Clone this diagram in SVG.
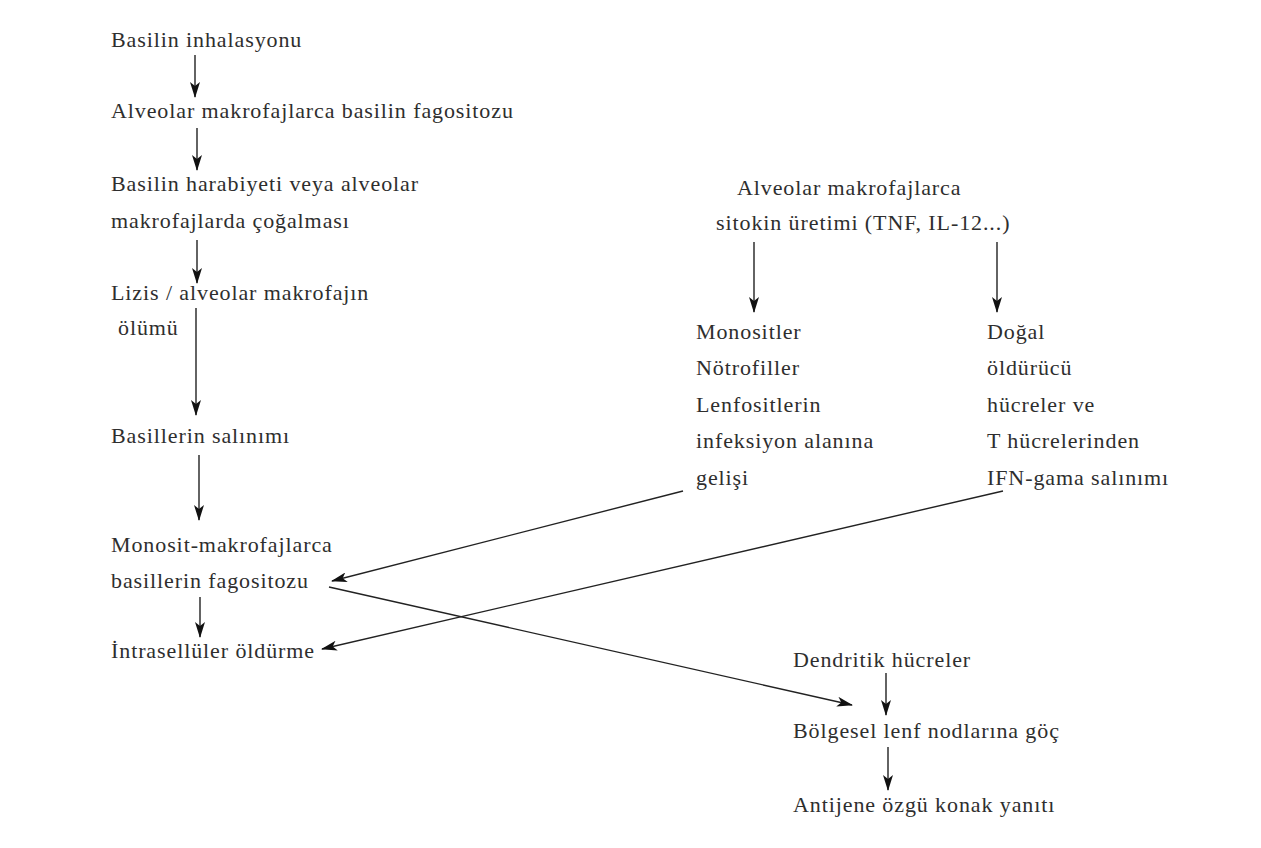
<svg xmlns="http://www.w3.org/2000/svg" width="1261" height="848" viewBox="0 0 1261 848">
<style>
text{font-family:"Liberation Serif","Times New Roman",serif;font-size:22px;letter-spacing:0.9px;fill:#2e2e2e}
.c line{stroke:#222;stroke-width:1.4;fill:none;marker-end:url(#ah)}
</style>
<defs>
<marker id="ah" viewBox="0 0 16 10" refX="15" refY="5" markerWidth="16" markerHeight="10" orient="auto" markerUnits="userSpaceOnUse">
<path d="M0,0 L16,5 L0,10 L4,5 Z" fill="#111"/>
</marker>
</defs>
<rect width="1261" height="848" fill="#fff"/>
<g id="n1"><text x="111" y="47">Basilin inhalasyonu</text></g>
<g id="n2"><text x="111" y="118">Alveolar makrofajlarca basilin fagositozu</text></g>
<g id="n3"><text x="111" y="191">Basilin harabiyeti veya alveolar</text><text x="111" y="228">makrofajlarda çoğalması</text></g>
<g id="n4"><text x="111" y="300">Lizis / alveolar makrofajın</text><text x="118" y="335">ölümü</text></g>
<g id="n5"><text x="111" y="443">Basillerin salınımı</text></g>
<g id="n6"><text x="111" y="552">Monosit-makrofajlarca</text><text x="111" y="588">basillerin fagositozu</text></g>
<g id="n7"><text x="111" y="658">İntrasellüler öldürme</text></g>
<g id="n8"><text x="737" y="195">Alveolar makrofajlarca</text><text x="716" y="230">sitokin üretimi (TNF, IL-12...)</text></g>
<g id="n9"><text x="696" y="339">Monositler</text><text x="696" y="375">Nötrofiller</text><text x="696" y="412">Lenfositlerin</text><text x="696" y="448">infeksiyon alanına</text><text x="696" y="485">gelişi</text></g>
<g id="n10"><text x="987" y="339">Doğal</text><text x="987" y="375">öldürücü</text><text x="987" y="412">hücreler ve</text><text x="987" y="448">T hücrelerinden</text><text x="987" y="485">IFN-gama salınımı</text></g>
<g id="n11"><text x="793" y="667">Dendritik hücreler</text></g>
<g id="n12"><text x="793" y="738">Bölgesel lenf nodlarına göç</text></g>
<g id="n13"><text x="793" y="812">Antijene özgü konak yanıtı</text></g>
<g id="connectors" class="c">
<line x1="195" y1="55" x2="195" y2="97"/>
<line x1="197" y1="128" x2="197" y2="170"/>
<line x1="197" y1="240" x2="197" y2="283"/>
<line x1="196" y1="308" x2="196" y2="415"/>
<line x1="199" y1="455" x2="199" y2="520"/>
<line x1="200" y1="597" x2="200" y2="637"/>
<line x1="754" y1="242" x2="754" y2="312"/>
<line x1="997" y1="242" x2="997" y2="312"/>
<line x1="683" y1="491" x2="332" y2="581"/>
<line x1="1003" y1="491" x2="322" y2="649"/>
<line x1="329" y1="587" x2="852" y2="705"/>
<line x1="886" y1="673" x2="886" y2="715"/>
<line x1="888" y1="747" x2="888" y2="790"/>
</g>
</svg>
